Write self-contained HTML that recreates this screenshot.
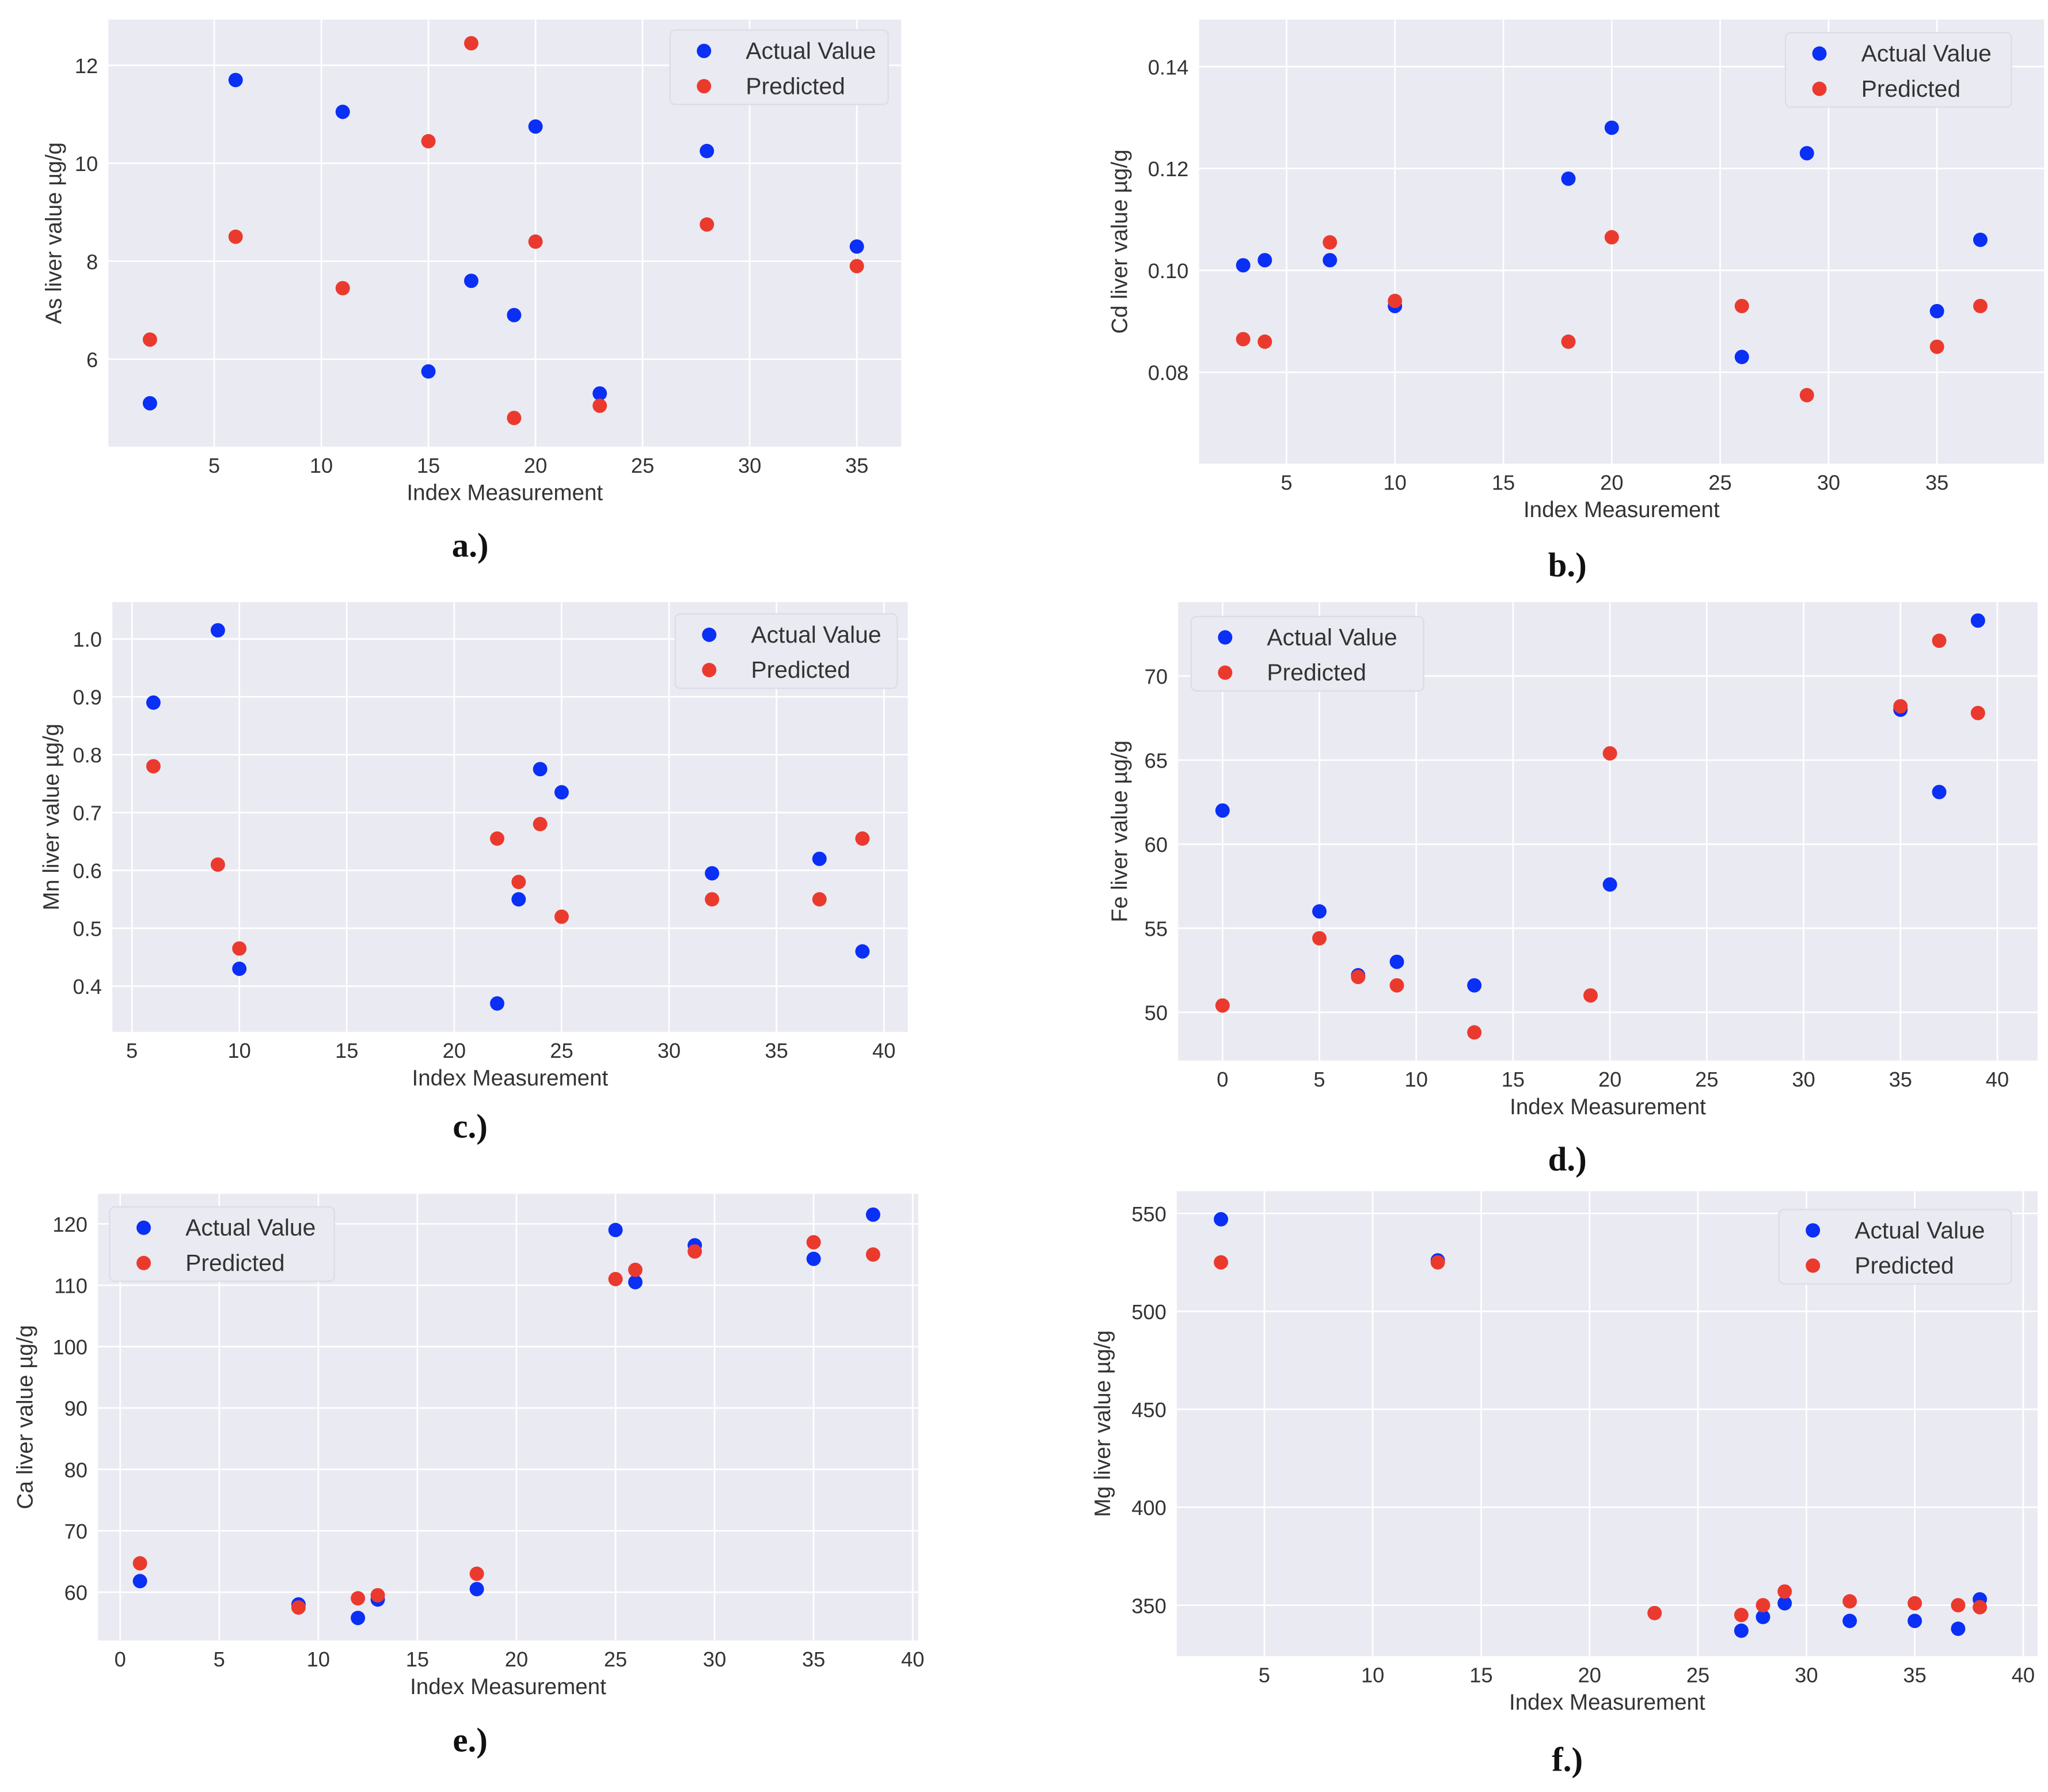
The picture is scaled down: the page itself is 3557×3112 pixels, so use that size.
<!DOCTYPE html>
<html><head><meta charset="utf-8"><style>
html,body{margin:0;padding:0;background:#fff}
svg{display:block}
text{font-family:"Liberation Sans",sans-serif}
</style></head><body>
<svg id="fig" xmlns="http://www.w3.org/2000/svg" width="3557" height="3112" viewBox="0 0 1568 1372" preserveAspectRatio="none"></svg>
<script>
// Panel a (As)
const aIdxA=[2,6,11,15,17,19,20,23,28,35];
const aActual=[5.1,11.7,11.05,5.75,7.6,6.9,10.75,5.3,10.25,8.3];
const aIdxP=[2,6,11,15,17,19,20,23,28,35];
const aPred=[6.4,8.5,7.45,10.45,12.45,4.8,8.4,5.05,8.75,7.9];
const aXTicks=[5,10,15,20,25,30,35];
const aYTicks=[6,8,10,12];
// Panel b (Cd)
const bIdxA=[3,4,7,10,18,20,26,29,35,37];
const bActual=[0.101,0.102,0.102,0.093,0.118,0.128,0.083,0.123,0.092,0.106];
const bIdxP=[3,4,7,10,18,20,26,29,35,37];
const bPred=[0.0865,0.086,0.1055,0.094,0.086,0.1065,0.093,0.0755,0.085,0.093];
const bXTicks=[5,10,15,20,25,30,35];
const bYTicks=[0.08,0.10,0.12,0.14];
// Panel c (Mn)
const cIdxA=[6,9,10,22,23,24,25,32,37,39];
const cActual=[0.89,1.015,0.43,0.37,0.55,0.775,0.735,0.595,0.62,0.46];
const cIdxP=[6,9,10,22,23,24,25,32,37,39];
const cPred=[0.78,0.61,0.465,0.655,0.58,0.68,0.52,0.55,0.55,0.655];
const cXTicks=[5,10,15,20,25,30,35,40];
const cYTicks=[0.4,0.5,0.6,0.7,0.8,0.9,1.0];
// Panel d (Fe)
const dIdxA=[0,5,7,9,13,20,35,37,39];
const dActual=[62,56,52.2,53,51.6,57.6,68,63.1,73.3];
const dIdxP=[0,5,7,9,13,19,20,35,37,39];
const dPred=[50.4,54.4,52.1,51.6,48.8,51,65.4,68.2,72.1,67.8];
const dXTicks=[0,5,10,15,20,25,30,35,40];
const dYTicks=[50,55,60,65,70];
// Panel e (Ca)
const eIdxA=[1,9,12,13,18,25,26,29,35,38];
const eActual=[61.8,58,55.8,58.8,60.5,119,110.5,116.5,114.3,121.5];
const eIdxP=[1,9,12,13,18,25,26,29,35,38];
const ePred=[64.7,57.5,59,59.5,63,111,112.5,115.5,117,115];
const eXTicks=[0,5,10,15,20,25,30,35,40];
const eYTicks=[60,70,80,90,100,110,120];
// Panel f (Mg)
const fIdxA=[3,13,27,28,29,32,35,37,38];
const fActual=[547,526,337,344,351,342,342,338,353];
const fIdxP=[3,13,23,27,28,29,32,35,37,38];
const fPred=[525,525,346,345,350,357,352,351,350,349];
const fXTicks=[5,10,15,20,25,30,35,40];
const fYTicks=[350,400,450,500,550];

const NS="http://www.w3.org/2000/svg";
const svg=document.getElementById('fig');
function mk(tag,attrs,parent){const e=document.createElementNS(NS,tag);for(const k in attrs)e.setAttribute(k,attrs[k]);(parent||svg).appendChild(e);return e;}
const BLUE="#0a2ff5",RED="#ea3a2e";

function panel(p){
  const g=mk('g',{});
  
  
  const bg=mk('rect',{x:p.x0,y:p.y0,width:p.x1-p.x0,height:p.y1-p.y0,fill:'#eaeaf2'},g);
  
  
  const sx=v=>p.px0+(v-p.vx0)*p.kx;
  const sy=v=>p.py0-(v-p.vy0)*p.ky;
  p.xt.forEach(t=>{
    const X=sx(t);
    const l=mk('line',{x1:X,x2:X,y1:p.y0,y2:p.y1,stroke:'#fff','stroke-width':1.2},g);
    
    
    const tx=mk('text',{x:X,y:p.y1+20,'text-anchor':'middle','font-size':16,fill:'#333'},g);
    
    
    tx.textContent=t;
  });
  p.yt.forEach(t=>{
    const Y=sy(t);
    const l=mk('line',{x1:p.x0,x2:p.x1,y1:Y,y2:Y,stroke:'#fff','stroke-width':1.2},g);
    
    
    const tx=mk('text',{x:p.x0-8,y:Y+6,'text-anchor':'end','font-size':16,fill:'#333'},g);
    
    
    tx.textContent=p.fmt?p.fmt(t):t;
  });
  p.ia.forEach((v,i)=>{
    const c=mk('circle',{cx:sx(v),cy:sy(p.a[i]),r:5.5,fill:BLUE},g);
    
    
  });
  p.ip.forEach((v,i)=>{
    const c=mk('circle',{cx:sx(v),cy:sy(p.pr[i]),r:5.5,fill:RED},g);
    
    
  });
  const xl=mk('text',{x:(p.x0+p.x1)/2,y:p.y1+41,'text-anchor':'middle','font-size':17,fill:'#333'},g);
  
  
  xl.textContent='Index Measurement';
  const yl=mk('text',{x:0,y:0,'text-anchor':'middle','font-size':17,fill:'#333',transform:`translate(${p.ylx},${(p.y0+p.y1)/2}) rotate(-90)`},g);
  
  
  yl.textContent=p.ylabel;
  const lg=mk('g',{},g);
  
  
  mk('rect',{x:p.lx,y:p.ly,width:p.lw,height:57,rx:4,fill:'#eaeaf2',stroke:'#dcdce6'},lg);
  [['Actual Value',BLUE],['Predicted',RED]].forEach((e,i)=>{
    const c=mk('circle',{cx:p.lx+26,cy:p.ly+16+i*27,r:5.5,fill:e[1]},lg);
    
    
    const t=mk('text',{x:p.lx+58,y:p.ly+22+i*27,'font-size':18,fill:'#333'},lg);
    
    
    t.textContent=e[0];
  });
  const cap=mk('text',{x:p.capx,y:p.capy,'text-anchor':'middle','font-size':26,'font-weight':'bold',fill:'#111',style:'font-family:"Liberation Serif",serif'},g);
  
  
  cap.textContent=p.cap;
}

panel({name:'as',x0:83,x1:690,y0:15,y1:342,px0:164,vx0:5,kx:16.4,py0:275,vy0:6,ky:37.5,xt:aXTicks,yt:aYTicks,ia:aIdxA,a:aActual,ip:aIdxP,pr:aPred,ylx:47,ylabel:'As liver value µg/g',lx:513,ly:23,lw:167,capx:360,capy:426,cap:'a.)'});
panel({name:'cd',x0:918,x1:1565,y0:15,y1:355,px0:985,vx0:5,kx:16.6,py0:285,vy0:0.08,ky:3900,xt:bXTicks,yt:bYTicks,ia:bIdxA,a:bActual,ip:bIdxP,pr:bPred,ylx:863,ylabel:'Cd liver value µg/g',fmt:v=>v.toFixed(2),lx:1367,ly:25,lw:173,capx:1200,capy:441,cap:'b.)'});
panel({name:'mn',x0:86,x1:695,y0:461,y1:790,px0:101,vx0:5,kx:16.45,py0:755,vy0:0.4,ky:443,xt:cXTicks,yt:cYTicks,ia:cIdxA,a:cActual,ip:cIdxP,pr:cPred,ylx:45,ylabel:'Mn liver value µg/g',fmt:v=>v.toFixed(1),lx:517,ly:470,lw:170,capx:360,capy:871,cap:'c.)'});
panel({name:'fe',x0:902,x1:1560,y0:461,y1:812,px0:936,vx0:0,kx:14.83,py0:775,vy0:50,ky:12.87,xt:dXTicks,yt:dYTicks,ia:dIdxA,a:dActual,ip:dIdxP,pr:dPred,ylx:863,ylabel:'Fe liver value µg/g',lx:912,ly:472,lw:178,capx:1200,capy:896,cap:'d.)'});
panel({name:'ca',x0:75,x1:703,y0:914,y1:1256,px0:92,vx0:0,kx:15.17,py0:1219,vy0:60,ky:4.7,xt:eXTicks,yt:eYTicks,ia:eIdxA,a:eActual,ip:eIdxP,pr:ePred,ylx:25,ylabel:'Ca liver value µg/g',lx:84,ly:924,lw:172,capx:360,capy:1341,cap:'e.)'});
panel({name:'mg',x0:901,x1:1560,y0:912,y1:1268,px0:968,vx0:5,kx:16.6,py0:1229,vy0:350,ky:1.5,xt:fXTicks,yt:fYTicks,ia:fIdxA,a:fActual,ip:fIdxP,pr:fPred,ylx:850,ylabel:'Mg liver value µg/g',lx:1362,ly:926,lw:178,capx:1200,capy:1356,cap:'f.)'});
</script>
</body></html>
